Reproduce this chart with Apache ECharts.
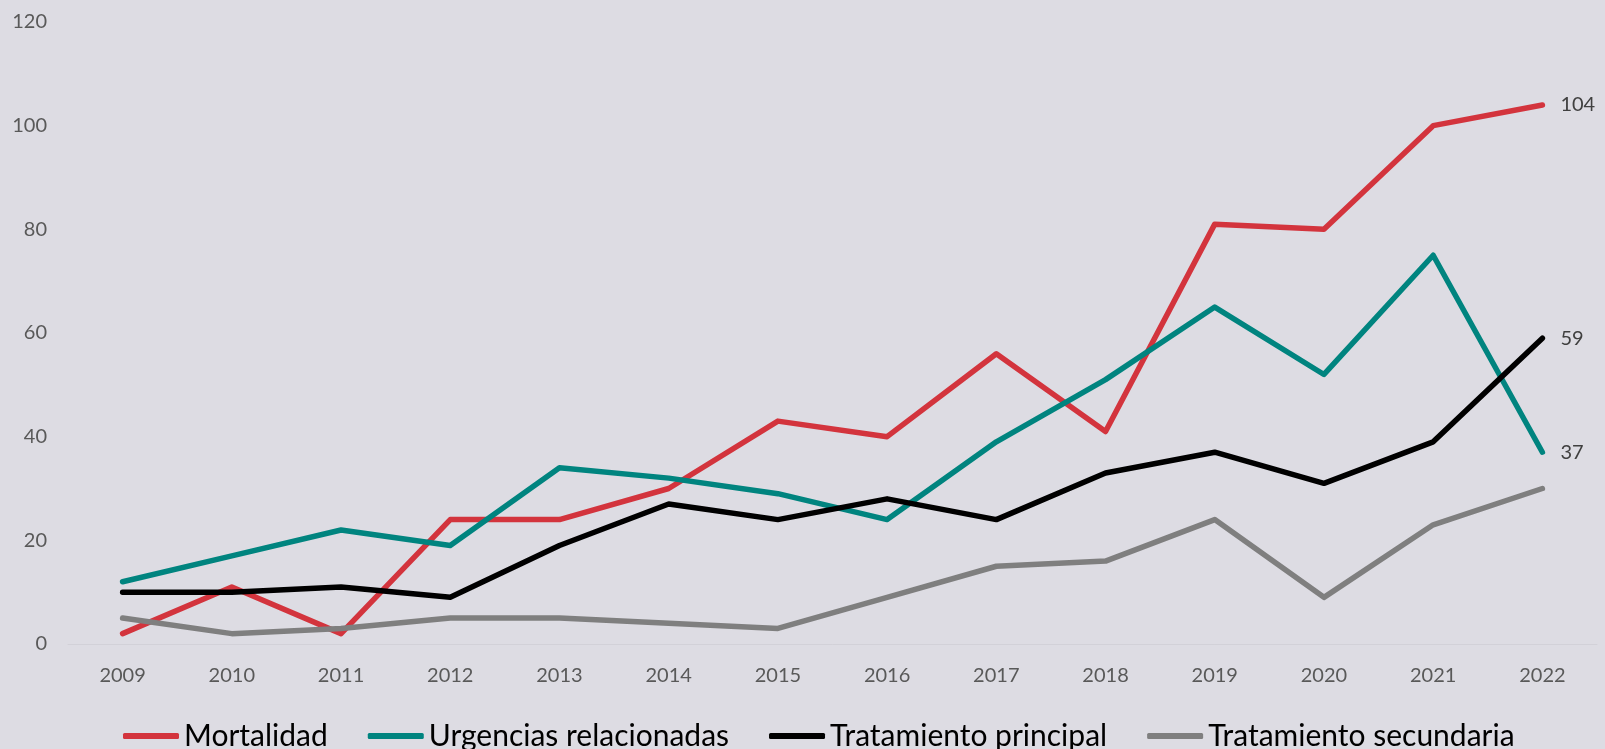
<!DOCTYPE html>
<html>
<head>
<meta charset="utf-8">
<script src="https://cdn.jsdelivr.net/npm/echarts@6/dist/echarts.min.js"></script>
<style>
	html, body { margin: 0; padding: 0; background: #dddce3; }
	#main { width: 1605px; height: 749px; }
</style>
</head>
<body>
<div id="main"></div>
<script>
	let years = ['2009', '2010', '2011', '2012', '2013', '2014', '2015', '2016', '2017', '2018', '2019', '2020', '2021', '2022'];
	let mortalidad = [2, 11, 2, 24, 24, 30, 43, 40, 56, 41, 81, 80, 100, 104];
	let urgencias = [12, 17, 22, 19, 34, 32, 29, 24, 39, 51, 65, 52, 75, 37];
	let principal = [10, 10, 11, 9, 19, 27, 24, 28, 24, 33, 37, 31, 39, 59];
	let secundaria = [5, 2, 3, 5, 5, 4, 3, 9, 15, 16, 24, 9, 23, 30];

	let font = 'Lato, "Open Sans", sans-serif';

	function makeSeries(name, values, color, endLabel) {
		return {
			name: name,
			type: 'line',
			symbol: 'none',
			data: values,
			lineStyle: { color: color, width: 5.5, cap: 'round', join: 'round' },
			itemStyle: { color: color },
			endLabel: {
				show: endLabel,
				formatter: p => p.value,
				distance: 18,
				color: '#404040',
				fontSize: 20,
				fontFamily: font
			}
		};
	}

	let chart = echarts.init(document.getElementById('main'));
	let option = {
		backgroundColor: '#dddce3',
		animation: false,
		grid: { left: 68, right: 8, top: 22, bottom: 105 },
		legend: {
			top: 716,
			left: 118,
			icon: 'roundRect',
			itemWidth: 56,
			itemHeight: 6,
			itemGap: 40,
			textStyle: { color: '#000', fontSize: 30, fontFamily: font }
		},
		xAxis: {
			type: 'category',
			data: years,
			axisLine: { lineStyle: { color: '#d2d1d8', width: 1 } },
			axisTick: { show: false },
			axisLabel: { color: '#595959', fontSize: 20, fontFamily: font, margin: 22 }
		},
		yAxis: {
			type: 'value',
			min: 0,
			max: 120,
			interval: 20,
			splitLine: { show: false },
			axisLine: { show: false },
			axisLabel: { color: '#595959', fontSize: 20, fontFamily: font, margin: 21 }
		},
		series: [
			makeSeries('Mortalidad', mortalidad, '#d3343d', true),
			makeSeries('Urgencias relacionadas', urgencias, '#00847f', true),
			makeSeries('Tratamiento principal', principal, '#000000', true),
			makeSeries('Tratamiento secundaria', secundaria, '#7f7f7f', false)
		]
	};
	chart.setOption(option);
</script>
</body>
</html>
